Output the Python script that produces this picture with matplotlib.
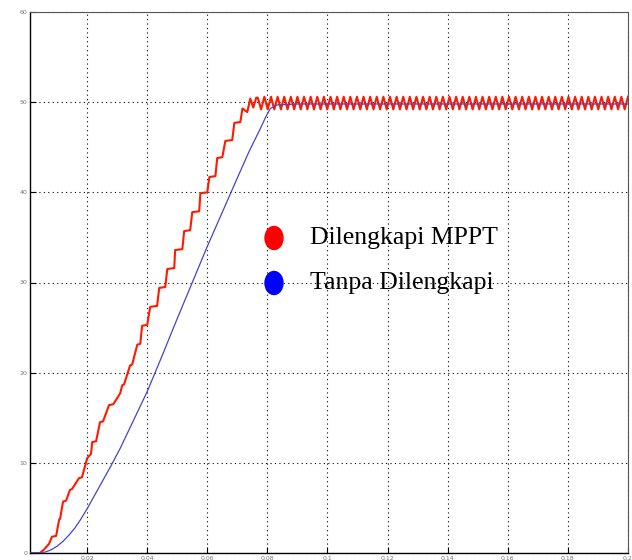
"""Output voltage with and without MPPT."""
import matplotlib
matplotlib.use("Agg")
from matplotlib import pyplot as plt
from matplotlib.patches import Ellipse

# red trace: staircase rise (s, V)
red_t = [0.0010, 0.0043, 0.0057, 0.0073, 0.0083, 0.0097, 0.0107, 0.0110, 0.0120,
         0.0130, 0.0143, 0.0150, 0.0173, 0.0183, 0.0200, 0.0213, 0.0217, 0.0230,
         0.0243, 0.0253, 0.0273, 0.0287, 0.0310, 0.0317, 0.0323, 0.0343, 0.0350,
         0.0367, 0.0377, 0.0383, 0.0400, 0.0410, 0.0433, 0.0440, 0.0460, 0.0467,
         0.0490, 0.0493, 0.0517, 0.0523, 0.0543, 0.0550, 0.0573, 0.0577, 0.0600,
         0.0607, 0.0627, 0.0633, 0.0650, 0.0660, 0.0683, 0.0690, 0.0710, 0.0717,
         0.0733, 0.0743, 0.0753, 0.0763, 0.0768, 0.0779]
red_v = [0.0, 0.0, 0.4, 1.0, 1.8, 1.9, 3.7, 3.8, 5.7, 5.8, 7.0, 7.1, 8.3, 8.4,
         10.5, 11.0, 12.3, 12.4, 14.5, 14.6, 16.4, 16.5, 17.7, 18.6, 18.7, 20.8,
         20.9, 23.1, 23.2, 25.2, 25.3, 27.3, 27.4, 29.4, 29.5, 31.5, 31.6, 33.6,
         33.7, 35.7, 35.8, 37.8, 37.9, 39.9, 40.0, 41.7, 41.8, 43.8, 43.9, 45.7,
         45.8, 47.7, 47.8, 49.3, 48.9, 50.4, 49.4, 50.5, 50.5, 49.2]

# red trace: ripple around the operating point (ms, V)
red_ss_ms = [
    79.0, 80.1, 81.2, 82.3, 83.4, 84.5, 85.6, 86.7, 87.8, 88.9,
    90.0, 91.1, 92.2, 93.3, 94.4, 95.5, 96.6, 97.7, 98.8, 99.9,
    101.0, 102.1, 103.2, 104.3, 105.4, 106.5, 107.6, 108.7, 109.8, 110.9,
    112.0, 113.1, 114.2, 115.3, 116.4, 117.5, 118.6, 119.7, 120.8, 121.9,
    123.0, 124.1, 125.2, 126.3, 127.4, 128.5, 129.6, 130.7, 131.8, 132.9,
    134.0, 135.1, 136.2, 137.3, 138.4, 139.5, 140.6, 141.7, 142.8, 143.9,
    145.0, 146.1, 147.2, 148.3, 149.4, 150.5, 151.6, 152.7, 153.8, 154.9,
    156.0, 157.1, 158.2, 159.3, 160.4, 161.5, 162.6, 163.7, 164.8, 165.9,
    167.0, 168.1, 169.2, 170.3, 171.4, 172.5, 173.6, 174.7, 175.8, 176.9,
    178.0, 179.1, 180.2, 181.3, 182.4, 183.5, 184.6, 185.7, 186.8, 187.9,
    189.0, 190.1, 191.2, 192.3, 193.4, 194.5, 195.6, 196.7, 197.8, 198.9,
    200.0,
]
red_ss_v = [
    50.6, 49.2, 50.6, 49.2, 50.6, 49.2, 50.6, 49.2, 50.6, 49.2,
    50.6, 49.2, 50.6, 49.2, 50.6, 49.2, 50.6, 49.2, 50.6, 49.2,
    50.6, 49.2, 50.6, 49.2, 50.6, 49.2, 50.6, 49.2, 50.6, 49.2,
    50.6, 49.2, 50.6, 49.2, 50.6, 49.2, 50.6, 49.2, 50.6, 49.2,
    50.6, 49.2, 50.6, 49.2, 50.6, 49.2, 50.6, 49.2, 50.6, 49.2,
    50.6, 49.2, 50.6, 49.2, 50.6, 49.2, 50.6, 49.2, 50.6, 49.2,
    50.6, 49.2, 50.6, 49.2, 50.6, 49.2, 50.6, 49.2, 50.6, 49.2,
    50.6, 49.2, 50.6, 49.2, 50.6, 49.2, 50.6, 49.2, 50.6, 49.2,
    50.6, 49.2, 50.6, 49.2, 50.6, 49.2, 50.6, 49.2, 50.6, 49.2,
    50.6, 49.2, 50.6, 49.2, 50.6, 49.2, 50.6, 49.2, 50.6, 49.2,
    50.6, 49.2, 50.6, 49.2, 50.6, 49.2, 50.6, 49.2, 50.6, 49.2,
    50.6,
]

# blue trace (s, V)
blue_t = [0.0010, 0.0037, 0.0060, 0.0080, 0.0100, 0.0120, 0.0140, 0.0160, 0.0180,
          0.0200, 0.0220, 0.0250, 0.0280, 0.0310, 0.0350, 0.0400, 0.0450, 0.0500,
          0.0550, 0.0600, 0.0650, 0.0700, 0.0740, 0.0777, 0.0795, 0.0810, 0.0833,
          0.0900, 0.2000]
blue_v = [0.0, 0.0, 0.1, 0.35, 0.75, 1.3, 2.0, 2.8, 3.8,
          4.9, 6.1, 7.9, 9.7, 11.6, 14.4, 17.9, 21.9, 26.0,
          30.0, 34.0, 37.8, 41.6, 44.6, 47.1, 48.4, 49.3, 49.7,
          49.8, 49.8]

xticks = [0.02, 0.04, 0.06, 0.08, 0.1, 0.12, 0.14, 0.16, 0.18, 0.2]
xticklabels = ["0.02", "0.04", "0.06", "0.08", "0.1", "0.12", "0.14", "0.16", "0.18", "0.2"]
yticks = [0, 10, 20, 30, 40, 50, 60]
legend_labels = ["Dilengkapi MPPT", "Tanpa Dilengkapi"]

fig = plt.figure(figsize=(6.32, 5.6), dpi=100)
ax = fig.add_axes([30 / 632, 7 / 560, 598 / 632, 541 / 560])

ax.plot(blue_t, blue_v, color="#4444cc", lw=0.9, zorder=3)
ax.plot(red_t + [m / 1000 for m in red_ss_ms], red_v + red_ss_v,
        color="#ff1a00", lw=1.5, zorder=2)

ax.set_xlim(0.001, 0.2)
ax.set_ylim(0, 60)
ax.set_xticks(xticks)
ax.set_xticklabels(xticklabels)
ax.set_yticks(yticks)
ax.tick_params(direction="in", length=4, width=0.8, labelsize=4.5,
               labelcolor="#777777", pad=2)
ax.grid(True, color="black", linestyle=(0, (1, 3)), linewidth=0.8)
for side in ["left", "bottom"]:
    ax.spines[side].set_linewidth(1.0)
for side in ["top", "right"]:
    ax.spines[side].set_color("#555555")

# legend drawn as coloured dots with serif text
for i, (label, col) in enumerate(zip(legend_labels, ["#ff0000", "#0000ff"])):
    yc = (560 - 238 - 45 * i) / 560
    fig.patches.append(Ellipse((274 / 632, yc), 18 / 632, 23 / 560,
                               transform=fig.transFigure, color=col, zorder=5))
    fig.text(310 / 632, yc, label, fontsize=18.5, family="Liberation Serif",
             va="center", ha="left")

fig.savefig("out.png", dpi=100)
